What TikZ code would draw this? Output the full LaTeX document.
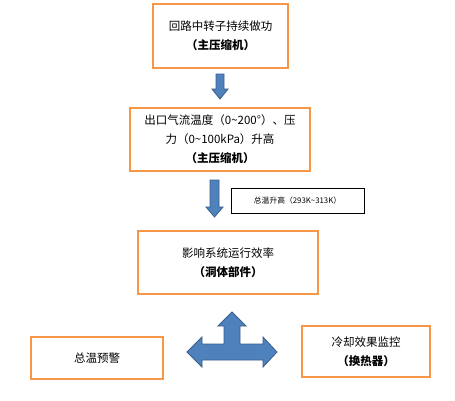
\documentclass[tikz,border=0pt]{standalone}
\usepackage{fontspec}
\setmainfont{Noto Sans CJK SC}
\usepackage{tikz}
\usetikzlibrary{positioning}
\definecolor{boxorange}{HTML}{F79646}
\definecolor{arrowblue}{HTML}{4F81BD}
\definecolor{arrowedge}{HTML}{385D8A}

\begin{document}
\begin{tikzpicture}[x=1pt, y=-1pt,
  obox/.style={rectangle, draw=boxorange, fill=white, line width=1.6pt,
               align=center, font=\fontsize{11.5}{19}\selectfont},
  nbox/.style={rectangle, draw=black, fill=white, line width=0.6pt,
               minimum width=133pt, minimum height=25pt,
               font=\fontsize{7.8}{9}\selectfont},
  barrow/.style={fill=arrowblue, draw=arrowedge, line width=0.8pt, line join=miter}
]
\useasboundingbox (0,0) rectangle (455,400);
\node[obox, minimum width=135pt, minimum height=64pt] (rotor) at (220.5,36)
  {回路中转子持续做功\\\textbf{（主压缩机）}};
\node[obox, minimum width=180pt, minimum height=63pt] (outlet) at (220,139.5)
  {出口气流温度（0\textasciitilde200°）、压\\力（0\textasciitilde100kPa）升高\\\textbf{（主压缩机）}};
\node[nbox] (rise) at (297.5,200.5) {总温升高（293K\textasciitilde313K）};
\node[obox, minimum width=180pt, minimum height=63pt] (effic) at (228,262.5)
  {影响系统运行效率\\\textbf{（洞体部件）}};
\node[obox, minimum width=132pt, minimum height=42pt] (warn) at (97,358) {总温预警};
\node[obox, minimum width=128pt, minimum height=51pt] (cool) at (366,351.5)
  {冷却效果监控\\\textbf{（换热器）}};
% block arrows
\draw[barrow] (216,74) -- (224,74) -- (224,89) -- (228,89) -- (220,99)
  -- (212,89) -- (216,89) -- cycle;
\draw[barrow] (210,180) -- (219,180) -- (219,207) -- (223,207) -- (214.5,217)
  -- (206,207) -- (210,207) -- cycle;
\draw[barrow] (232,312) -- (246,326) -- (240,326) -- (240,344) -- (263,344)
  -- (263,337) -- (277,352) -- (263,367) -- (263,360) -- (202,360)
  -- (202,367) -- (187,352) -- (202,337) -- (202,344) -- (224,344)
  -- (224,326) -- (218,326) -- cycle;
\end{tikzpicture}
\end{document}
